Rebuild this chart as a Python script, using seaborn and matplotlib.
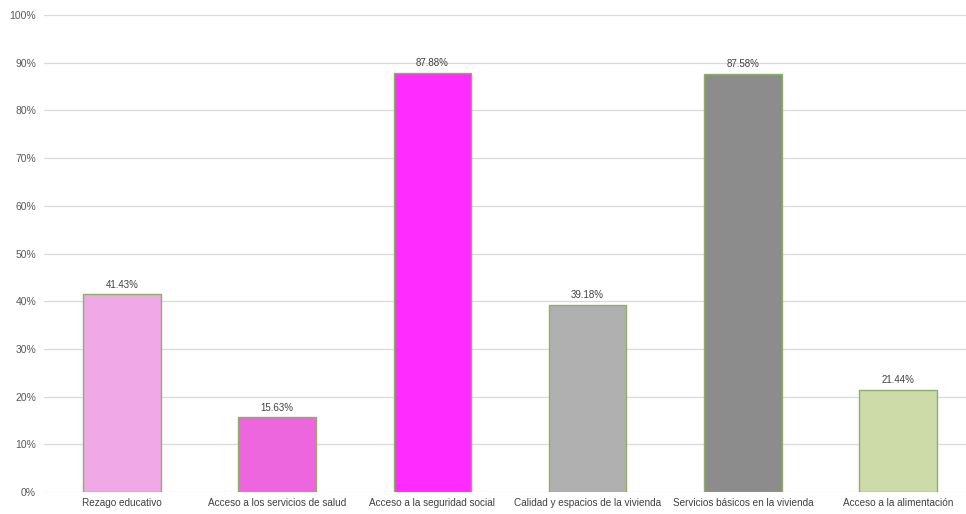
import numpy as np
import pandas as pd
import matplotlib
matplotlib.use("Agg")
import matplotlib.pyplot as plt
import seaborn as sns

# --- DATA ---
categories = [
    "Rezago educativo",
    "Acceso a los servicios de salud",
    "Acceso a la seguridad social",
    "Calidad y espacios de la vivienda",
    "Servicios básicos en la vivienda",
    "Acceso a la alimentación",
]
values = [41.43, 15.63, 87.88, 39.18, 87.58, 21.44]
bar_colors = ["#F0A8E6", "#EE66DD", "#FF2BFF", "#B0B0B0", "#8C8C8C", "#CCDBA8"]
y_ticks = [0, 10, 20, 30, 40, 50, 60, 70, 80, 90, 100]

sns.set_theme(style="white")
plt.rcParams["font.family"] = ["Liberation Sans", "DejaVu Sans"]

df = pd.DataFrame({"categoria": categories, "valor": values})

fig = plt.figure(figsize=(9.66, 5.14), dpi=100)
# plot area runs a little past the right edge of the figure, as in the source
ax = fig.add_axes([0.046, 0.0428, 0.964, 0.928])

sns.barplot(data=df, x="categoria", y="valor", hue="categoria",
            palette=bar_colors, legend=False, width=0.5,
            edgecolor="#8FAE6A", linewidth=1.0, saturation=1, ax=ax, zorder=3)

# value labels
for i, v in enumerate(values):
    ax.text(i, v + 1.0, f"{v:.2f}%", ha="center", va="bottom",
            fontsize=7, color="#404040", zorder=4)

ax.set_ylim(0, 100)
ax.set_xlim(-0.5, len(categories) - 0.5)
ax.set_yticks(y_ticks)
ax.set_yticklabels([f"{t}%" for t in y_ticks], fontsize=7.5, color="#595959")
ax.tick_params(axis="x", labelsize=7.2, colors="#404040", length=0, pad=4)
ax.tick_params(axis="y", length=0, pad=6)
ax.set_xlabel("")
ax.set_ylabel("")
ax.yaxis.grid(True, color="#D9D9D9", linewidth=0.9, zorder=0)
ax.set_axisbelow(True)
for s in ax.spines.values():
    s.set_visible(False)

fig.savefig("out.png", dpi=100)
